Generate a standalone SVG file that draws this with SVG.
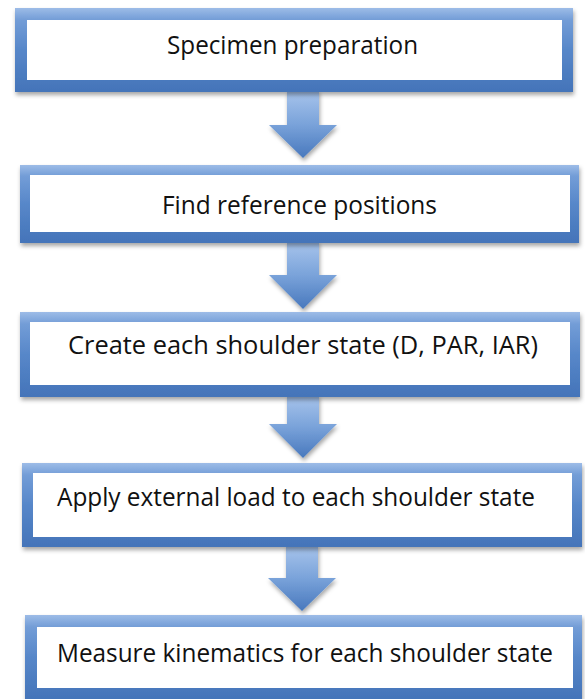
<svg xmlns="http://www.w3.org/2000/svg" width="585" height="699" viewBox="0 0 585 699">
  <defs>
    <linearGradient id="frameGrad" x1="0" y1="0" x2="0" y2="1">
      <stop offset="0" stop-color="#9dbce7"/>
      <stop offset="0.14" stop-color="#739dd7"/>
      <stop offset="0.5" stop-color="#5787c9"/>
      <stop offset="1" stop-color="#4474b9"/>
    </linearGradient>
    <linearGradient id="arrowGrad" x1="0" y1="0" x2="0" y2="1">
      <stop offset="0" stop-color="#a9c5ec"/>
      <stop offset="0.5" stop-color="#7aa3da"/>
      <stop offset="1" stop-color="#4878bd"/>
    </linearGradient>
    <filter id="shadow" x="-5%" y="-10%" width="110%" height="130%">
      <feDropShadow dx="1" dy="3" stdDeviation="2" flood-color="#000" flood-opacity="0.35"/>
    </filter>
  </defs>
  <style>
    .frame { fill: url(#frameGrad); fill-rule: evenodd; filter: url(#shadow); }
    .inner { fill: #ffffff; }
    .arrow { fill: url(#arrowGrad); filter: url(#shadow); }
    .label { font-family: "Open Sans", "Liberation Sans", sans-serif; font-size: 25.5px; fill: #111111; }
  </style>

  <g id="connectors">
    <path class="arrow" d="M287,90 H319 V125 H337 L303,158 L269,125 H287 Z"/>
    <path class="arrow" d="M287,241 H319 V275 H337 L303,309 L269,275 H287 Z"/>
    <path class="arrow" d="M287,395 H319 V424 H337 L303,458 L269,424 H287 Z"/>
    <path class="arrow" d="M286,545 H318 V578 H336 L302,611 L268,578 H286 Z"/>
  </g>

  <g id="node1">
    <path class="frame" d="M15,8 H573 V92 H15 Z M27,20 V80 H562 V20 Z"/>
    <rect class="inner" x="27" y="20" width="535" height="60"/>
    <text class="label" x="167" y="54" textLength="251" lengthAdjust="spacingAndGlyphs">Specimen preparation</text>
  </g>

  <g id="node2">
    <path class="frame" d="M20,165 H579 V243 H20 Z M30,175 V232 H570 V175 Z"/>
    <rect class="inner" x="30" y="175" width="540" height="57"/>
    <text class="label" x="162" y="214" textLength="275" lengthAdjust="spacingAndGlyphs">Find reference positions</text>
  </g>

  <g id="node3">
    <path class="frame" d="M20,312 H580 V397 H20 Z M30,322 V385 H570 V322 Z"/>
    <rect class="inner" x="30" y="322" width="540" height="63"/>
    <text class="label" x="68" y="354" textLength="470" lengthAdjust="spacingAndGlyphs">Create each shoulder state (D, PAR, IAR)</text>
  </g>

  <g id="node4">
    <path class="frame" d="M22,463 H582 V547 H22 Z M33,473 V537 H572 V473 Z"/>
    <rect class="inner" x="33" y="473" width="539" height="64"/>
    <text class="label" x="57" y="506" textLength="478" lengthAdjust="spacingAndGlyphs">Apply external load to each shoulder state</text>
  </g>

  <g id="node5">
    <path class="frame" d="M25,615 H582 V699 H25 Z M37,627 V688 H573 V627 Z"/>
    <rect class="inner" x="37" y="627" width="536" height="61"/>
    <text class="label" x="57" y="662" textLength="496" lengthAdjust="spacingAndGlyphs">Measure kinematics for each shoulder state</text>
  </g>
</svg>
